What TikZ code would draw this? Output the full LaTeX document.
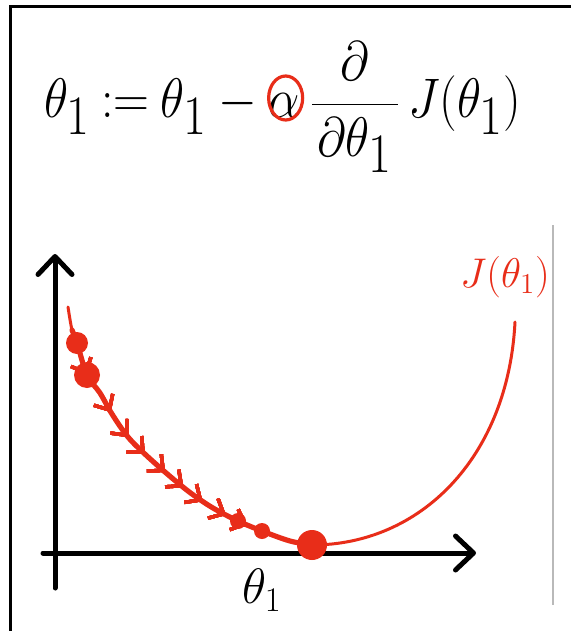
\documentclass[tikz,border=0pt]{standalone}
\usetikzlibrary{arrows.meta,decorations.markings}
\definecolor{pen}{RGB}{232,45,25}
\newcommand{\eqbox}[1]{\scalebox{1}[1.12]{#1}}
\begin{document}
\begin{tikzpicture}[x=0.5pt,y=-0.5pt,
  frame/.style={line width=1.5pt,black},
  eqpart/.style={inner sep=0pt,outer sep=0pt,font=\fontsize{33}{40}\selectfont},
  axisline/.style={line width=2.5pt,black,line cap=round,line join=round,
    -{Straight Barb[length=9pt,width=17pt,line width=2.5pt,round]}},
  curve/.style={pen,line width=1.5pt,line cap=round,line join=round},
  dot/.style={circle,fill=pen,inner sep=0pt,minimum size=#1},
  chv/.style={decoration={markings,
    mark=at position #1 with {\arrow{Straight Barb[length=6pt,width=11pt,line width=1.7pt]}}},
    postaction={decorate}}
]
\useasboundingbox (0,0) rectangle (571,631);
\fill[white] (0,0) rectangle (571,631);
% frame
\draw[frame] (10.5,631) -- (10.5,6.5) -- (571,6.5);
% gray line
\draw[gray!55,line width=1pt] (553,225) -- (553,605);
% equation
\node[eqpart,anchor=base west] (lhs) at (44,118) {\eqbox{$\thickmuskip=4mu\theta_1 := \theta_1 \mskip\medmuskip -$}};
\node[eqpart,anchor=base west] (al) at (268,118) {\eqbox{$\alpha$}};
\node[eqpart,anchor=base,font=\fontsize{38}{44}\selectfont] (fr) at (355,118) {\eqbox{$\displaystyle\frac{\partial}{\mkern2mu\partial\theta_1\mkern2mu}$}};
\node[eqpart,anchor=base west] (rhs) at (408,118) {\eqbox{$J(\theta_1)$}};
\draw[pen,line width=1.6pt] ([xshift=1pt,yshift=4pt]al.center) ellipse [x radius=17, y radius=22];
% axes
\coordinate (ybot) at (55,588);
\coordinate (ytop) at (55,254);
\coordinate (xl) at (43,553);
\coordinate (xr) at (476,553);
\draw[axisline] (ybot) -- (ytop);
\draw[axisline] (xl) -- (xr);
\node (xlab) at (262,590) {\fontsize{24}{28}\selectfont$\theta_1$};
% curve
\draw[curve] plot[smooth,tension=0.55] coordinates {(68,307) (72,330) (77,343) (87,375) (100,393) (112,414) (128,437) (147,456) (172,478) (192,494) (213,508) (238,521) (262,531) (290,541) (312,545)}
  .. controls (420,545) and (508,458) .. (515,322);
\draw[curve,line width=2.6pt,chv/.list={0.14,0.27,0.36,0.43,0.51,0.58,0.65,0.73,0.80}] plot[smooth,tension=0.55] coordinates {(72,330) (77,343) (87,375) (100,393) (112,414) (128,437) (147,456) (172,478) (192,494) (213,508) (238,521) (262,531) (290,541) (312,545)};
\node[dot=11pt] (d1) at (77,343) {};
\node[dot=13pt] (d2) at (87,375) {};
\node[dot=8pt] (d3) at (238,521) {};
\node[dot=8pt] (d4) at (262,531) {};
\node[dot=15pt] (dmin) at (312,545) {};
\node[pen] (jlab) at (505,277) {\fontsize{22}{26}\selectfont$J(\theta_1)$};
\end{tikzpicture}
\end{document}
